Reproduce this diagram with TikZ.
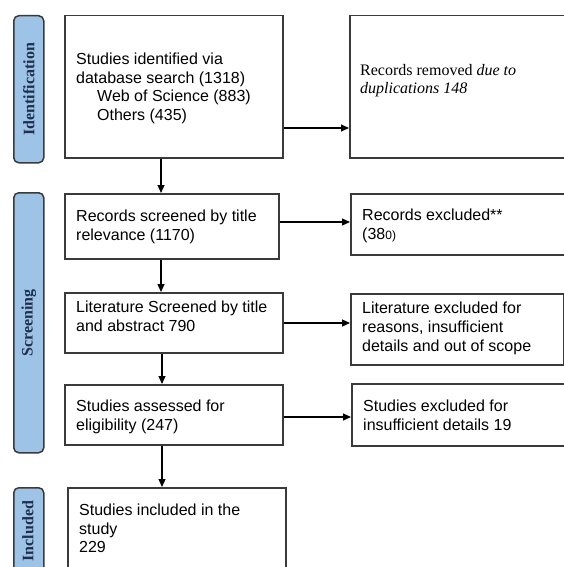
\documentclass[tikz,border=0pt]{standalone}
\usepackage{fontspec}
\setmainfont{Liberation Sans}
\newfontfamily\timesfont{Liberation Serif}
\usetikzlibrary{arrows.meta}
\definecolor{sidefill}{HTML}{9DC3E6}
\definecolor{sidetext}{HTML}{1F2F4F}
\definecolor{boxline}{HTML}{3A3A3A}
\tikzset{
  box/.style={draw=boxline, line width=1.5pt, anchor=north west, inner sep=0pt, fill=white},
  side/.style={draw=boxline, fill=sidefill, line width=1.5pt, rounded corners=5pt, anchor=north west, inner sep=0pt, minimum width=30pt},
  sidelabel/.style={rotate=90, text=sidetext, font=\timesfont\bfseries\fontsize{16}{18}\selectfont, inner sep=0pt},
  txt/.style={anchor=north west, align=left, inner sep=0pt, font=\fontsize{16}{18.5}\selectfont},
  arr/.style={-{Triangle[length=8pt,width=7pt]}, line width=1.2pt, black},
}
\begin{document}
\begin{tikzpicture}[x=1pt,y=-1pt]
\useasboundingbox (0,0) rectangle (564,567);
\clip (0,0) rectangle (564,567);
% sidebars
\node[side, minimum height=147pt] (s1) at (13,15) {};
\node[sidelabel] (s1t) at (s1.center) {Identification};
\node[side, minimum height=260pt] (s2) at (13,192) {};
\node[sidelabel] (s2t) at (s2.center) {Screening};
\node[side, minimum height=100pt] (s3) at (13,487) {};
\node[sidelabel] (s3t) at (28,531) {Included};
% left boxes
\node[box, minimum width=218pt, minimum height=142pt] (b1) at (64,15) {};
\node[box, minimum width=214pt, minimum height=65pt] (b2) at (64,193) {};
\node[box, minimum width=218pt, minimum height=60pt] (b3) at (64,292) {};
\node[box, minimum width=218pt, minimum height=60pt] (b4) at (64,384) {};
\node[box, minimum width=218pt, minimum height=100pt] (b5) at (67,487) {};
% right boxes
\node[box, minimum width=230pt, minimum height=142pt] (r1) at (349,15) {};
\node[box, minimum width=230pt, minimum height=61pt] (r2) at (350,193) {};
\node[box, minimum width=213pt, minimum height=71pt] (r3) at (350,293) {};
\node[box, minimum width=230pt, minimum height=62pt] (r4) at (351,383) {};
% texts
\node[txt] (t1) at (76,53) {Studies identified via\\database search (1318)\\\hspace*{21pt}Web of Science (883)\\\hspace*{21pt}Others (435)};
\node[txt, font=\timesfont\fontsize{16}{18.5}\selectfont] (tr1) at (360,64) {Records removed \textit{due to}\\\textit{duplications 148}};
\node[txt] (t2) at (76,210) {Records screened by title\\relevance (1170)};
\node[txt] (tr2) at (362,209) {Records excluded**\\(38{\fontsize{12}{14}\selectfont 0)}};
\node[txt] (t3) at (76,301) {Literature Screened by title\\and abstract 790};
\node[txt, font=\fontsize{16}{19}\selectfont] (tr3) at (362,302) {Literature excluded for\\reasons, insufficient\\details and out of scope};
\node[txt] (t4) at (76,400) {Studies assessed for\\eligibility (247)};
\node[txt] (tr4) at (363,400) {Studies excluded for\\insufficient details 19};
\node[txt] (t5) at (79,504) {Studies included in the\\study\\229};
% arrows down
\draw[arr] (b1.south -| 161,0) -- (b2.north -| 161,0);
\draw[arr] (b2.south -| 161,0) -- (b3.north -| 161,0);
\draw[arr] (b3.south -| 162,0) -- (b4.north -| 162,0);
\draw[arr] (b4.south -| 162,0) -- (b5.north -| 162,0);
% arrows right
\draw[arr] (b1.east |- 0,128) -- (r1.west |- 0,128);
\draw[arr] (b2.east |- 0,222) -- (r2.west |- 0,222);
\draw[arr] (b3.east |- 0,323) -- (r3.west |- 0,323);
\draw[arr] (b4.east |- 0,417) -- (r4.west |- 0,417);
\end{tikzpicture}
\end{document}
